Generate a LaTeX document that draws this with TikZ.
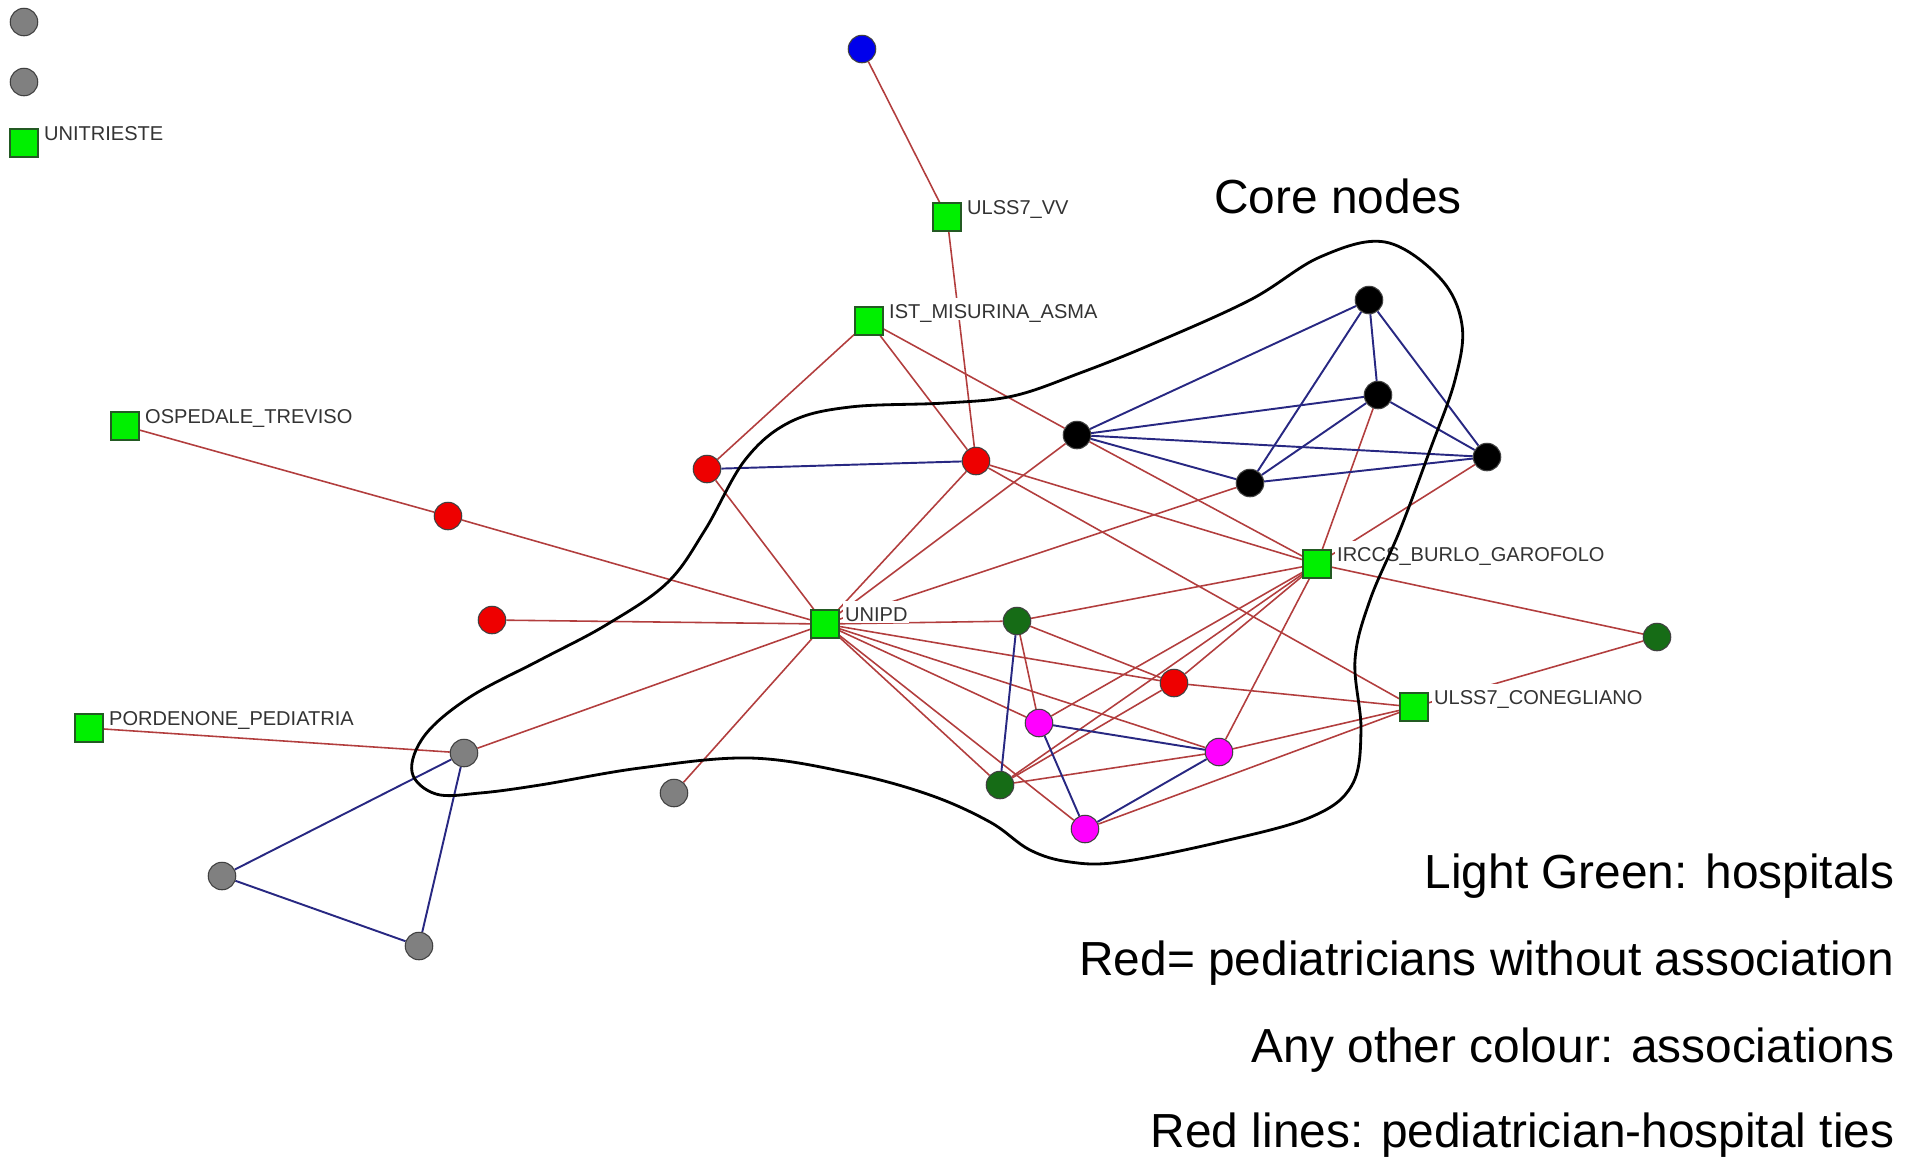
\documentclass[tikz,border=0pt]{standalone}
\usepackage{fontspec}
\setmainfont{Liberation Sans}
\usetikzlibrary{positioning,backgrounds}

\definecolor{hospgreen}{RGB}{0,240,0}
\definecolor{hospedge}{RGB}{35,90,35}
\definecolor{greynode}{RGB}{128,128,128}
\definecolor{rednode}{RGB}{238,0,0}
\definecolor{bluenode}{RGB}{0,0,235}
\definecolor{darkgreen}{RGB}{22,108,22}
\definecolor{magnode}{RGB}{255,0,255}
\definecolor{tiered}{RGB}{178,62,62}
\definecolor{assocblue}{RGB}{40,40,130}

\begin{document}
\begin{tikzpicture}[x=0.01cm, y=-0.01cm,
    actor/.style={circle, draw=black!75, line width=0.3pt, minimum size=0.275cm, inner sep=0pt},
    hosp/.style={rectangle, draw=hospedge, fill=hospgreen, line width=0.4pt, minimum size=0.28cm, inner sep=0pt},
    tie/.style={draw=tiered, line width=0.45pt},
    assoc/.style={draw=assocblue, line width=0.55pt},
    lbl/.style={fill=white, inner xsep=0.5pt, inner ysep=0.5pt, text height=5.5pt, text depth=0pt,
        text=black!80, font=\fontsize{5.7}{6}\selectfont},
    legend/.style={anchor=base east, inner sep=0pt, font=\fontsize{13.6}{16}\selectfont}]
    \useasboundingbox (0,0) rectangle (1914,1156);

    % hospitals
    \node[hosp] (unitrieste) at (24,143) {};
    \node[hosp] (vv) at (947,217) {};
    \node[hosp] (ist) at (869,321) {};
    \node[hosp] (treviso) at (125,426) {};
    \node[hosp] (burlo) at (1317,564) {};
    \node[hosp] (unipd) at (825,624) {};
    \node[hosp] (cone) at (1414,707) {};
    \node[hosp] (porde) at (89,728) {};

    % pediatricians and associations
    \node[actor, fill=greynode] (g1) at (24,22) {};
    \node[actor, fill=greynode] (g2) at (24,82) {};
    \node[actor, fill=bluenode] (bl) at (862,49) {};
    \node[actor, fill=rednode] (r1) at (707,469) {};
    \node[actor, fill=rednode] (r2) at (976,461) {};
    \node[actor, fill=black] (k1) at (1077,435) {};
    \node[actor, fill=black] (ktop) at (1369,300) {};
    \node[actor, fill=black] (k2) at (1378,395) {};
    \node[actor, fill=black] (kright) at (1487,457) {};
    \node[actor, fill=black] (kmid) at (1250,483) {};
    \node[actor, fill=rednode] (r3) at (448,516) {};
    \node[actor, fill=rednode] (r4) at (492,620) {};
    \node[actor, fill=darkgreen] (dg1) at (1017,621) {};
    \node[actor, fill=darkgreen] (dgr) at (1657,637) {};
    \node[actor, fill=rednode] (r5) at (1174,683) {};
    \node[actor, fill=magnode] (m1) at (1039,723) {};
    \node[actor, fill=magnode] (m2) at (1219,752) {};
    \node[actor, fill=greynode] (g3) at (464,753) {};
    \node[actor, fill=darkgreen] (dg2) at (1000,785) {};
    \node[actor, fill=greynode] (g4) at (674,793) {};
    \node[actor, fill=magnode] (m3) at (1085,829) {};
    \node[actor, fill=greynode] (g5) at (222,876) {};
    \node[actor, fill=greynode] (g6) at (419,946) {};

    \begin{scope}[on background layer]
        % pediatrician-hospital ties
        \draw[tie] (bl) -- (vv);
        \draw[tie] (vv) -- (r2);
        \draw[tie] (ist) -- (r1);
        \draw[tie] (ist) -- (r2);
        \draw[tie] (ist) -- (k1);
        \draw[tie] (treviso) -- (r3);
        \draw[tie] (r3) -- (unipd);
        \draw[tie] (r4) -- (unipd);
        \draw[tie] (r1) -- (unipd);
        \draw[tie] (r2) -- (unipd);
        \draw[tie] (k1) -- (unipd);
        \draw[tie] (kmid) -- (unipd);
        \draw[tie] (unipd) -- (dg1);
        \draw[tie] (unipd) -- (r5);
        \draw[tie] (unipd) -- (m2);
        \draw[tie] (unipd) -- (m1);
        \draw[tie] (unipd) -- (dg2);
        \draw[tie] (unipd) -- (m3);
        \draw[tie] (unipd) -- (g3);
        \draw[tie] (unipd) -- (g4);
        \draw[tie] (porde) -- (g3);
        \draw[tie] (r2) -- (burlo);
        \draw[tie] (r2) -- (cone);
        \draw[tie] (k1) -- (burlo);
        \draw[tie] (k2) -- (burlo);
        \draw[tie] (kright) -- (burlo);
        \draw[tie] (dg1) -- (burlo);
        \draw[tie] (m1) -- (burlo);
        \draw[tie] (dg2) -- (burlo);
        \draw[tie] (r5) -- (burlo);
        \draw[tie] (m2) -- (burlo);
        \draw[tie] (dgr) -- (burlo);
        \draw[tie] (dg1) -- (m1);
        \draw[tie] (dg1) -- (r5);
        \draw[tie] (dg2) -- (r5);
        \draw[tie] (dg2) -- (m2);
        \draw[tie] (r5) -- (cone);
        \draw[tie] (m2) -- (cone);
        \draw[tie] (m3) -- (cone);
        \draw[tie] (dgr) -- (cone);

        % ties among pediatricians
        \draw[assoc] (r1) -- (r2);
        \draw[assoc] (k1) -- (ktop);
        \draw[assoc] (k1) -- (k2);
        \draw[assoc] (k1) -- (kright);
        \draw[assoc] (k1) -- (kmid);
        \draw[assoc] (ktop) -- (k2);
        \draw[assoc] (ktop) -- (kright);
        \draw[assoc] (ktop) -- (kmid);
        \draw[assoc] (k2) -- (kright);
        \draw[assoc] (k2) -- (kmid);
        \draw[assoc] (kmid) -- (kright);
        \draw[assoc] (dg1) -- (dg2);
        \draw[assoc] (m1) -- (m2);
        \draw[assoc] (m1) -- (m3);
        \draw[assoc] (m2) -- (m3);
        \draw[assoc] (g3) -- (g5);
        \draw[assoc] (g3) -- (g6);
        \draw[assoc] (g5) -- (g6);
    \end{scope}

    % hospital names
    \node[lbl, base right=0.03cm of unitrieste, yshift=0.023cm] (unitrieste-t) {UNITRIESTE};
    \node[lbl, base right=0.03cm of vv, yshift=0.023cm] (vv-t) {ULSS7\_VV};
    \node[lbl, base right=0.03cm of ist, yshift=0.023cm] (ist-t) {IST\_MISURINA\_ASMA};
    \node[lbl, base right=0.03cm of treviso, yshift=0.023cm] (treviso-t) {OSPEDALE\_TREVISO};
    \node[lbl, base right=0.03cm of burlo, yshift=0.023cm] (burlo-t) {IRCCS\_BURLO\_GAROFOLO};
    \node[lbl, base right=0.03cm of unipd, yshift=0.023cm] (unipd-t) {UNIPD};
    \node[lbl, base right=0.03cm of cone, yshift=0.023cm] (cone-t) {ULSS7\_CONEGLIANO};
    \node[lbl, base right=0.03cm of porde, yshift=0.023cm] (porde-t) {PORDENONE\_PEDIATRIA};

    % core nodes outline
    \draw[line width=0.8pt] plot[smooth cycle, tension=0.6] coordinates {
        (436,794) (412,772) (425,735) (470,697) (540,660) (606,625) (667,583)
        (705,530) (745,460) (790,422) (850,407) (945,403) (1013,396) (1080,373)
        (1150,345) (1250,300) (1320,257) (1385,242) (1440,278) (1462,325)
        (1455,380) (1430,450) (1400,530) (1370,600) (1355,660) (1361,730)
        (1352,785) (1311,817) (1220,842) (1120,862) (1070,862) (1030,850)
        (990,822) (930,795) (850,773) (750,758) (640,768) (540,785) (480,793)};
    \node[anchor=base, inner sep=0pt, font=\fontsize{13.6}{16}\selectfont] (core) at (1338,213) {Core nodes};

    % legend
    \node[legend] (leg1) at (1895,888) {Light Green: hospitals};
    \node[legend] (leg2) at (1895,975) {Red= pediatricians without association};
    \node[legend] (leg3) at (1895,1062) {Any other colour: associations};
    \node[legend] (leg4) at (1895,1147) {Red lines: pediatrician-hospital ties};
\end{tikzpicture}
\end{document}
